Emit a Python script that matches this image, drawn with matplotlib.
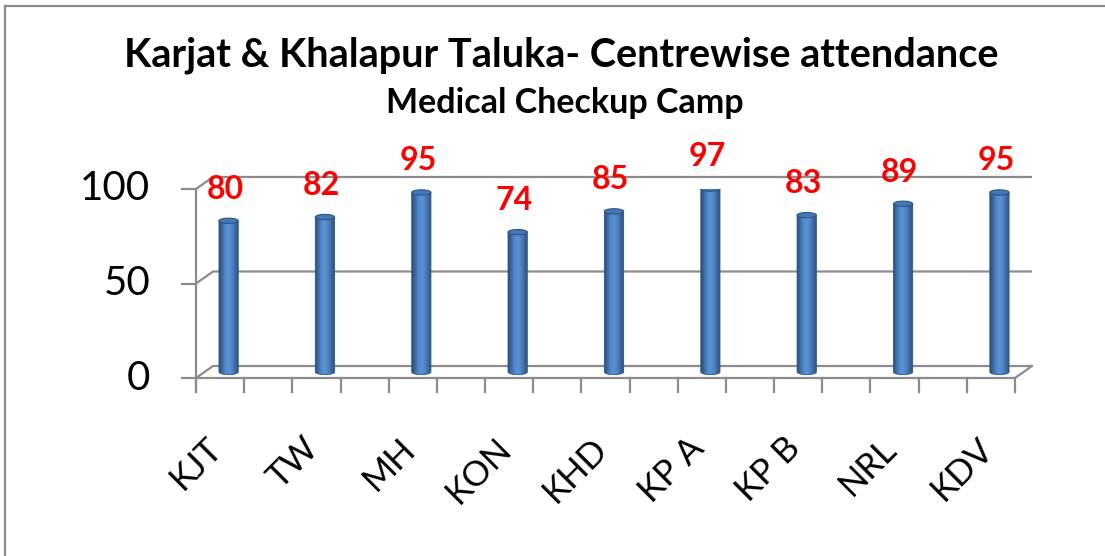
import numpy as np
import matplotlib.pyplot as plt
from matplotlib.patches import Ellipse, Polygon
from matplotlib.lines import Line2D
from matplotlib.colors import LinearSegmentedColormap

plt.rcParams['font.family'] = ['Lato', 'DejaVu Sans']

# Data
categories = ['KJT', 'TW', 'MH', 'KON', 'KHD', 'KP A', 'KP B', 'NRL', 'KDV']
attendance = [80, 82, 95, 74, 85, 97, 83, 89, 95]
y_ticks = [0, 50, 100]

title = 'Karjat & Khalapur Taluka- Centrewise attendance'
subtitle = 'Medical Checkup Camp'

n_slots = 2 * len(categories) - 1   # blank category between each centre
dx, dy = 0.353, 6.35                # depth of the 3D box (data units)
bar_w = 0.40
ell_h = 2.8
grid_c = '#8c8c8c'

W, H = 1105, 556
fig = plt.figure(figsize=(W / 100, H / 100), dpi=100)
ax = fig.add_axes([196 / W, (H - 378) / H, (1015 - 196) / W, 189 / H])
ax.axis('off')

# back wall gridlines + side wall
for v in y_ticks:
    ax.plot([0, dx, n_slots + dx], [v, v + dy, v + dy], color=grid_c, lw=1.6,
            clip_on=False, solid_capstyle='butt')
    ax.plot([-0.29, 0], [v, v], color=grid_c, lw=1.6, clip_on=False)
    ax.annotate(str(v), (0, v), xytext=(-33, 0), textcoords='offset points',
                ha='right', va='center', fontsize=29, color='black')

# front axis and floor
ax.plot([0, 0], [-7.5, 100], color=grid_c, lw=1.6, clip_on=False)
ax.plot([0, n_slots, n_slots + dx], [0, 0, dy], color=grid_c, lw=1.6, clip_on=False)
for k in range(n_slots + 1):
    ax.plot([k, k], [0, -7.5], color=grid_c, lw=1.6, clip_on=False)

# cylinders
cmap = LinearSegmentedColormap.from_list(
    'cyl', ['#2a4f7c', '#3d6ca5', '#548acb', '#5c92d4', '#4f82c2', '#3b679d', '#2b5283'])
grad = np.linspace(0, 1, 64).reshape(1, -1)
t = np.linspace(np.pi, 2 * np.pi, 40)
for i, v in enumerate(attendance):
    xc = 2 * i + 0.5 + dx / 2
    y0 = dy / 2
    top = v + dy / 2
    x0, x1 = xc - bar_w / 2, xc + bar_w / 2
    pts = [(x0, top)] + list(zip(xc + bar_w / 2 * np.cos(t), y0 + ell_h / 2 * np.sin(t))) + [(x1, top)]
    body = Polygon(pts, closed=True, facecolor='none', edgecolor='#2d5587', lw=0.6, zorder=3)
    ax.add_patch(body)
    im = ax.imshow(grad, extent=(x0, x1, y0 - ell_h / 2, top), aspect='auto',
                   cmap=cmap, zorder=2)
    im.set_clip_path(body)
    ax.add_patch(Ellipse((xc, top), bar_w, ell_h, facecolor='#4677b5',
                         edgecolor='#2d5587', lw=0.8, zorder=4))
    ax.annotate(str(v), (xc, top), xytext=(-2.5, 16), textcoords='offset points',
                ha='center', va='baseline', color='#ff0000', fontsize=23,
                fontweight='bold', zorder=5)
    ax.annotate(categories[i], (2 * i + 0.5, 0), xytext=(-2, -47), textcoords='offset points',
                ha='right', va='center', rotation=45, rotation_mode='anchor',
                fontsize=25, color='black')

ax.set_xlim(0, n_slots)
ax.set_ylim(0, 100)

# titles
fig.text(561 / W, 1 - 67 / H, title, ha='center', va='baseline', fontsize=28.5, fontweight='bold')
fig.text(565 / W, 1 - 113 / H, subtitle, ha='center', va='baseline', fontsize=24.5, fontweight='bold')

# chart border (top and left visible)
fig.add_artist(Line2D([5 / W, 1], [1 - 5.5 / H, 1 - 5.5 / H], color=grid_c, lw=1.6))
fig.add_artist(Line2D([5 / W, 5 / W], [0, 1 - 5.5 / H], color=grid_c, lw=1.6))

fig.savefig('out.png', dpi=100, facecolor='white')
